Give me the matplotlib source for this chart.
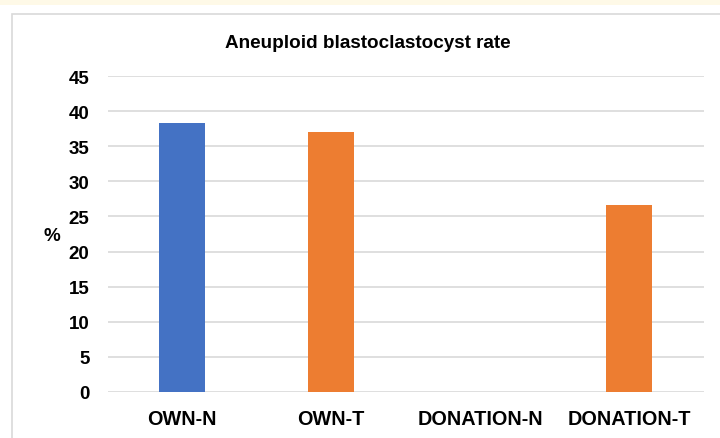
import matplotlib.pyplot as plt
from matplotlib.patches import Rectangle

categories = ['OWN-N', 'OWN-T', 'DONATION-N', 'DONATION-T']
rates = [38.3, 37.0, 0.0, 26.6]
bar_colors = ['#4472C4', '#ED7D31', '#ED7D31', '#ED7D31']
yticks = [0, 5, 10, 15, 20, 25, 30, 35, 40, 45]

plt.rcParams['font.family'] = ['Liberation Sans', 'DejaVu Sans']

fig = plt.figure(figsize=(7.2, 4.39), dpi=100)
fig.patch.set_facecolor('white')

# pale band on top and the chart frame
fig.patches.append(Rectangle((0, 1 - 6 / 439), 1, 6 / 439, transform=fig.transFigure,
                             facecolor='#FEF9E7', edgecolor='none', zorder=0))
fig.patches.append(Rectangle((12 / 720, -0.01), 1.0, 1 - 15 / 439 + 0.01, transform=fig.transFigure,
                             facecolor='none', edgecolor='#D9D9D9', linewidth=1.2, zorder=0))

ax = fig.add_axes([107.5 / 720, 1 - 393 / 439, 596 / 720, 316 / 439])
x = range(len(categories))
ax.bar(x, rates, width=0.315, color=bar_colors, zorder=3)

ax.set_xlim(-0.5, len(categories) - 0.5)
ax.set_ylim(0, 45)
ax.set_yticks(yticks)
ax.set_xticks(list(x))
ax.set_xticklabels(categories)
ax.grid(axis='y', color='#D9D9D9', linewidth=1.2, zorder=0)
ax.set_axisbelow(True)
for s in ax.spines.values():
    s.set_visible(False)
ax.tick_params(length=0)
ax.tick_params(axis='y', pad=13, labelsize=13.5)
ax.tick_params(axis='x', pad=12, labelsize=14.3)
for lab in ax.get_xticklabels() + ax.get_yticklabels():
    lab.set_fontweight('bold')

fig.text(368 / 720, 1 - 43 / 439, 'Aneuploid blastoclastocyst rate', ha='center', va='center',
         fontsize=13.6, fontweight='bold')
fig.text(52 / 720, 1 - 237 / 439, '%', ha='center', va='center', fontsize=13.5, fontweight='bold')

fig.savefig('out.png', dpi=100)
